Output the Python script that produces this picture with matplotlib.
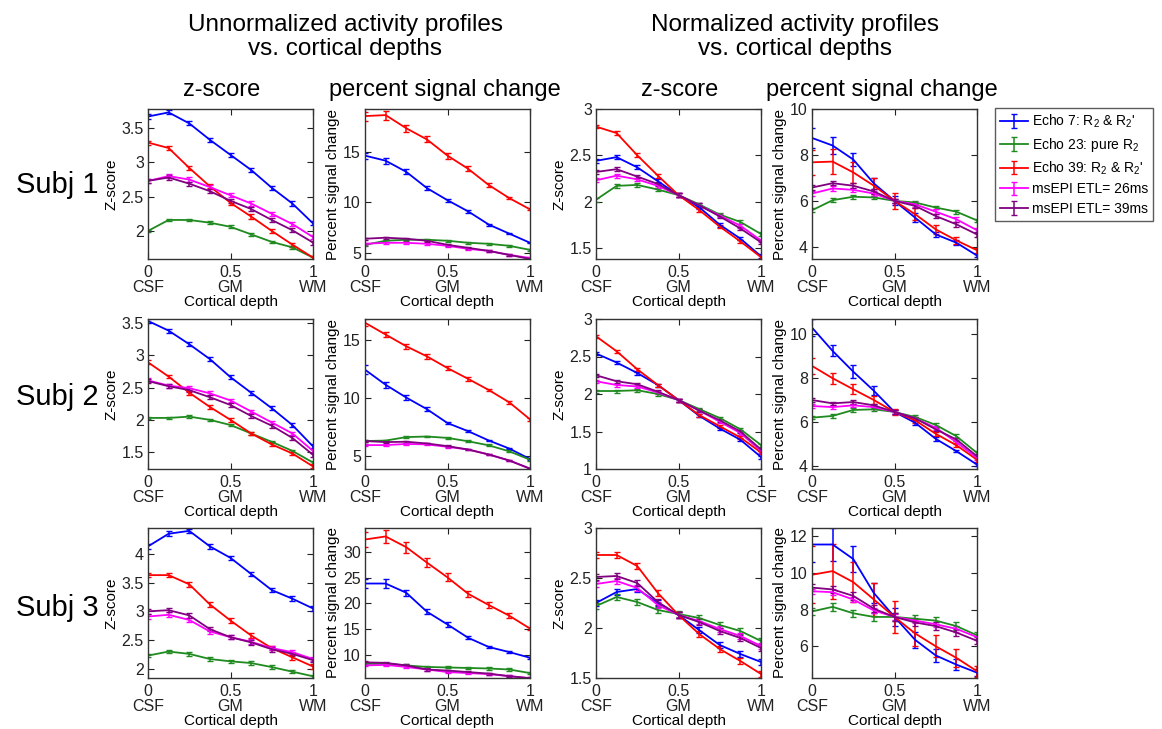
import numpy as np
import matplotlib.pyplot as plt

plt.rcParams['font.family'] = ['Liberation Sans', 'DejaVu Sans']
plt.rcParams['mathtext.default'] = 'regular'

# cortical depth samples (0 = CSF, 0.5 = GM, 1 = WM)
depth = [0, 0.125, 0.25, 0.375, 0.5, 0.625, 0.75, 0.875, 1]

labels = ["Echo 7: R$_2$ & R$_2$'", "Echo 23: pure R$_2$", "Echo 39: R$_2$ & R$_2$'",
          "msEPI ETL= 26ms", "msEPI ETL= 39ms"]
colors = ['#0000ff', '#1f8a1f', '#ff0000', '#ff00ff', '#800080']

# order in every panel: echo7, echo23, echo39, msEPI26, msEPI39
# ---------------- Subj 1 ----------------
s1_z_raw = [[3.67, 3.73, 3.57, 3.33, 3.11, 2.89, 2.63, 2.40, 2.11],
            [2.00, 2.16, 2.16, 2.12, 2.06, 1.95, 1.84, 1.76, 1.61],
            [3.29, 3.21, 2.92, 2.65, 2.41, 2.21, 2.00, 1.80, 1.61],
            [2.73, 2.80, 2.75, 2.64, 2.52, 2.40, 2.25, 2.10, 1.91],
            [2.73, 2.78, 2.69, 2.58, 2.44, 2.32, 2.16, 2.01, 1.83]]
s1_z_raw_err = [0.03, 0.02, 0.03, 0.03, 0.03]

s1_psc_raw = [[14.6, 14.1, 13.0, 11.4, 10.2, 9.1, 7.8, 6.9, 6.0],
              [5.8, 6.2, 6.3, 6.3, 6.2, 6.0, 5.9, 5.7, 5.3],
              [18.5, 18.6, 17.3, 16.2, 14.6, 13.3, 11.7, 10.4, 9.3],
              [5.9, 6.0, 6.0, 5.9, 5.7, 5.4, 5.2, 4.8, 4.5],
              [6.4, 6.5, 6.4, 6.2, 5.8, 5.5, 5.2, 4.8, 4.4]]
s1_psc_raw_err = [[0.3, 0.3, 0.25, 0.2, 0.15, 0.12, 0.1, 0.08, 0.06],
                  [0.1] * 9,
                  [0.45, 0.45, 0.35, 0.3, 0.3, 0.25, 0.15, 0.12, 0.1],
                  [0.1] * 9,
                  [0.1] * 9]

s1_z_norm = [[2.44, 2.48, 2.37, 2.22, 2.07, 1.94, 1.75, 1.60, 1.41],
             [2.02, 2.17, 2.18, 2.13, 2.07, 1.97, 1.86, 1.78, 1.65],
             [2.81, 2.74, 2.50, 2.28, 2.07, 1.91, 1.73, 1.57, 1.40],
             [2.23, 2.28, 2.24, 2.17, 2.07, 1.96, 1.85, 1.74, 1.58],
             [2.32, 2.35, 2.27, 2.19, 2.07, 1.96, 1.84, 1.71, 1.56]]
s1_z_norm_err = [0.02, 0.02, 0.02, 0.02, 0.02]

s1_psc_norm = [[8.74, 8.41, 7.80, 6.76, 6.00, 5.27, 4.54, 4.18, 3.62],
               [5.59, 6.03, 6.18, 6.15, 6.00, 5.93, 5.71, 5.53, 5.15],
               [7.68, 7.71, 7.24, 6.66, 6.00, 5.42, 4.76, 4.28, 3.85],
               [6.32, 6.54, 6.48, 6.32, 6.00, 5.85, 5.53, 5.20, 4.72],
               [6.58, 6.77, 6.66, 6.41, 6.00, 5.78, 5.34, 4.98, 4.54]]
s1_psc_norm_err = [[0.45, 0.35, 0.3, 0.25, 0.2, 0.2, 0.12, 0.12, 0.08],
                   [0.08] * 9,
                   [0.55, 0.55, 0.45, 0.35, 0.35, 0.25, 0.2, 0.15, 0.1],
                   [0.1] * 9,
                   [0.1] * 9]

# ---------------- Subj 2 ----------------
s2_z_raw = [[3.53, 3.38, 3.17, 2.94, 2.66, 2.42, 2.18, 1.92, 1.59],
            [2.03, 2.03, 2.05, 2.00, 1.92, 1.79, 1.66, 1.52, 1.34],
            [2.89, 2.67, 2.42, 2.20, 2.00, 1.79, 1.62, 1.48, 1.28],
            [2.61, 2.53, 2.49, 2.41, 2.30, 2.13, 1.96, 1.79, 1.52],
            [2.60, 2.52, 2.46, 2.35, 2.23, 2.06, 1.91, 1.72, 1.46]]
s2_z_raw_err = [0.03, 0.02, 0.03, 0.03, 0.03]

s2_psc_raw = [[12.4, 11.1, 10.0, 9.0, 7.8, 7.1, 6.3, 5.6, 4.7],
              [6.25, 6.29, 6.59, 6.64, 6.52, 6.23, 5.88, 5.36, 4.64],
              [16.45, 15.43, 14.42, 13.55, 12.54, 11.61, 10.65, 9.58, 8.12],
              [5.9, 5.9, 6.0, 5.96, 5.75, 5.52, 5.09, 4.57, 3.87],
              [6.25, 6.16, 6.19, 6.04, 5.81, 5.52, 5.09, 4.57, 3.87]]
s2_psc_raw_err = [[0.4, 0.25, 0.22, 0.2, 0.12, 0.1, 0.08, 0.06, 0.05],
                  [0.08] * 9,
                  [0.3, 0.25, 0.22, 0.2, 0.15, 0.15, 0.12, 0.12, 0.1],
                  [0.08] * 9,
                  [0.08] * 9]

s2_z_norm = [[2.54, 2.42, 2.28, 2.12, 1.92, 1.71, 1.54, 1.39, 1.16],
             [2.04, 2.04, 2.05, 2.00, 1.92, 1.80, 1.68, 1.53, 1.32],
             [2.77, 2.57, 2.33, 2.12, 1.92, 1.72, 1.57, 1.42, 1.22],
             [2.17, 2.12, 2.10, 2.02, 1.92, 1.78, 1.63, 1.48, 1.24],
             [2.25, 2.17, 2.13, 2.03, 1.92, 1.78, 1.65, 1.50, 1.26]]
s2_z_norm_err = [0.02, 0.02, 0.02, 0.02, 0.02]

s2_psc_norm = [[10.27, 9.21, 8.27, 7.40, 6.44, 5.95, 5.22, 4.66, 4.05],
               [6.18, 6.26, 6.53, 6.56, 6.44, 6.21, 5.85, 5.34, 4.58],
               [8.53, 7.97, 7.47, 6.98, 6.44, 6.06, 5.45, 4.93, 4.27],
               [6.71, 6.66, 6.74, 6.66, 6.44, 6.15, 5.72, 5.07, 4.35],
               [6.98, 6.83, 6.89, 6.74, 6.44, 6.15, 5.65, 5.19, 4.43]]
s2_psc_norm_err = [[0.4, 0.25, 0.28, 0.2, 0.1, 0.1, 0.08, 0.06, 0.05],
                   [0.08] * 9,
                   [0.35, 0.25, 0.22, 0.2, 0.12, 0.1, 0.1, 0.1, 0.1],
                   [0.08] * 9,
                   [0.08] * 9]

# ---------------- Subj 3 ----------------
s3_z_raw = [[4.13, 4.35, 4.40, 4.13, 3.93, 3.65, 3.37, 3.22, 3.05],
            [2.23, 2.30, 2.26, 2.17, 2.13, 2.10, 2.03, 1.95, 1.87],
            [3.63, 3.63, 3.47, 3.12, 2.84, 2.58, 2.36, 2.20, 2.04],
            [2.91, 2.94, 2.85, 2.65, 2.55, 2.47, 2.36, 2.29, 2.17],
            [3.00, 3.02, 2.93, 2.69, 2.55, 2.46, 2.34, 2.26, 2.15]]
s3_z_raw_err = [0.04, 0.03, 0.04, 0.04, 0.04]

s3_psc_raw = [[23.9, 23.9, 22.1, 18.4, 15.9, 13.3, 11.5, 10.5, 9.4],
              [8.2, 8.2, 7.9, 7.6, 7.5, 7.4, 7.3, 7.1, 6.4],
              [32.5, 33.1, 31.0, 28.0, 25.1, 21.9, 19.7, 17.6, 15.1],
              [7.9, 8.0, 7.6, 7.1, 6.6, 6.4, 6.2, 5.8, 5.4],
              [8.5, 8.4, 7.9, 7.1, 6.9, 6.6, 6.3, 5.8, 5.4]]
s3_psc_raw_err = [[0.9, 0.8, 0.6, 0.5, 0.4, 0.3, 0.2, 0.2, 0.2],
                  [0.2] * 9,
                  [1.5, 1.3, 1.1, 0.9, 0.8, 0.6, 0.5, 0.5, 0.3],
                  [0.2] * 9,
                  [0.2] * 9]

s3_z_norm = [[2.25, 2.36, 2.39, 2.25, 2.13, 1.98, 1.83, 1.74, 1.66],
             [2.22, 2.31, 2.26, 2.18, 2.14, 2.10, 2.03, 1.97, 1.87],
             [2.73, 2.73, 2.62, 2.35, 2.13, 1.94, 1.79, 1.67, 1.54],
             [2.44, 2.47, 2.40, 2.23, 2.13, 2.07, 1.99, 1.92, 1.82],
             [2.51, 2.52, 2.45, 2.26, 2.13, 2.06, 1.97, 1.90, 1.80]]
s3_z_norm_err = [0.03, 0.03, 0.03, 0.03, 0.03]

s3_psc_norm = [[11.55, 11.55, 10.76, 8.9, 7.6, 6.35, 5.5, 5.0, 4.56],
               [7.9, 8.15, 7.8, 7.6, 7.6, 7.5, 7.4, 7.1, 6.6],
               [9.9, 10.1, 9.5, 8.55, 7.6, 6.7, 6.0, 5.37, 4.64],
               [9.0, 8.95, 8.55, 7.95, 7.6, 7.4, 7.2, 6.95, 6.5],
               [9.2, 9.1, 8.75, 8.05, 7.6, 7.3, 7.1, 6.75, 6.3]]
s3_psc_norm_err = [[0.95, 0.9, 0.7, 0.55, 0.5, 0.45, 0.35, 0.3, 0.2],
                   [0.2] * 9,
                   [1.55, 1.5, 1.1, 0.9, 0.85, 0.7, 0.6, 0.5, 0.3],
                   [0.15] * 9,
                   [0.2] * 9]

panels = [
    [(s1_z_raw, s1_z_raw_err), (s1_psc_raw, s1_psc_raw_err),
     (s1_z_norm, s1_z_norm_err), (s1_psc_norm, s1_psc_norm_err)],
    [(s2_z_raw, s2_z_raw_err), (s2_psc_raw, s2_psc_raw_err),
     (s2_z_norm, s2_z_norm_err), (s2_psc_norm, s2_psc_norm_err)],
    [(s3_z_raw, s3_z_raw_err), (s3_psc_raw, s3_psc_raw_err),
     (s3_z_norm, s3_z_norm_err), (s3_psc_norm, s3_psc_norm_err)],
]

ylims = [[(1.59, 3.78), (4.4, 19.2), (1.38, 3.0), (3.47, 10.0)],
         [(1.24, 3.56), (3.84, 16.77), (1.0, 3.0), (3.85, 10.66)],
         [(1.84, 4.45), (5.44, 34.75), (1.5, 3.0), (4.27, 12.45)]]
yticks = [[[2, 2.5, 3, 3.5], [5, 10, 15], [1.5, 2, 2.5, 3], [4, 6, 8, 10]],
          [[1.5, 2, 2.5, 3, 3.5], [5, 10, 15], [1, 1.5, 2, 2.5, 3], [4, 6, 8, 10]],
          [[2, 2.5, 3, 3.5, 4], [10, 15, 20, 25, 30], [1.5, 2, 2.5, 3], [6, 8, 10, 12]]]
ylabels = ['Z-score', 'Percent signal change', 'Z-score', 'Percent signal change']

W, H = 1162, 729
fig = plt.figure(figsize=(W / 100, H / 100), dpi=100)

col_x = [148, 365, 596, 812]
row_y = [109, 319, 528]
aw, ah = 165, 150

handles = None
for r in range(3):
    for c in range(4):
        ax = fig.add_axes([col_x[c] / W, 1 - (row_y[r] + ah) / H, aw / W, ah / H])
        vals, errs = panels[r][c]
        hs = []
        for k in range(5):
            h = ax.errorbar(depth, vals[k], yerr=errs[k], color=colors[k], lw=1.3,
                            elinewidth=1.1, capsize=2.5, capthick=1.0)
            hs.append(h)
        if handles is None:
            handles = hs
        ax.set_xlim(0, 1)
        ax.set_ylim(*ylims[r][c])
        ax.set_xticks([0, 0.5, 1])
        right = 'CSF' if (r == 1 and c == 2) else 'WM'
        ax.set_xticklabels(['0\nCSF', '0.5\nGM', '1\n' + right], linespacing=1.0)
        ax.set_yticks(yticks[r][c])
        ax.set_yticklabels([f'{t:g}' for t in yticks[r][c]])
        ax.tick_params(direction='in', top=True, right=True, length=4,
                       labelsize=11.5, colors='#222222', pad=3)
        ax.tick_params(axis='x', pad=4)
        ax.set_ylabel(ylabels[c], fontsize=11, labelpad=2)
        ax.set_xlabel('Cortical depth', fontsize=11, labelpad=0)
        for sp in ax.spines.values():
            sp.set_linewidth(1.0)
            sp.set_color('#333333')

fig.text(345 / W, 1 - 37 / H, 'Unnormalized activity profiles\nvs. cortical depths',
         ha='center', va='center', fontsize=17.5, linespacing=1.1)
fig.text(795 / W, 1 - 37 / H, 'Normalized activity profiles\nvs. cortical depths',
         ha='center', va='center', fontsize=17.5, linespacing=1.1)
for cx, name in zip([222, 445, 680, 882],
                    ['z-score', 'percent signal change', 'z-score', 'percent signal change']):
    fig.text(cx / W, 1 - 90 / H, name, ha='center', va='center', fontsize=17)
for ry, name in zip([185, 397, 608], ['Subj 1', 'Subj 2', 'Subj 3']):
    fig.text(57 / W, 1 - ry / H, name, ha='center', va='center', fontsize=21)

leg = fig.legend(handles, labels, loc='upper left', bbox_to_anchor=(995 / W, 1 - 108 / H),
                 fontsize=10, frameon=True, fancybox=False, edgecolor='#333333',
                 handlelength=2.0, handletextpad=0.3, labelspacing=0.4, borderpad=0.35,
                 borderaxespad=0)
leg.get_frame().set_linewidth(1.0)

fig.savefig('out.png', dpi=100)
